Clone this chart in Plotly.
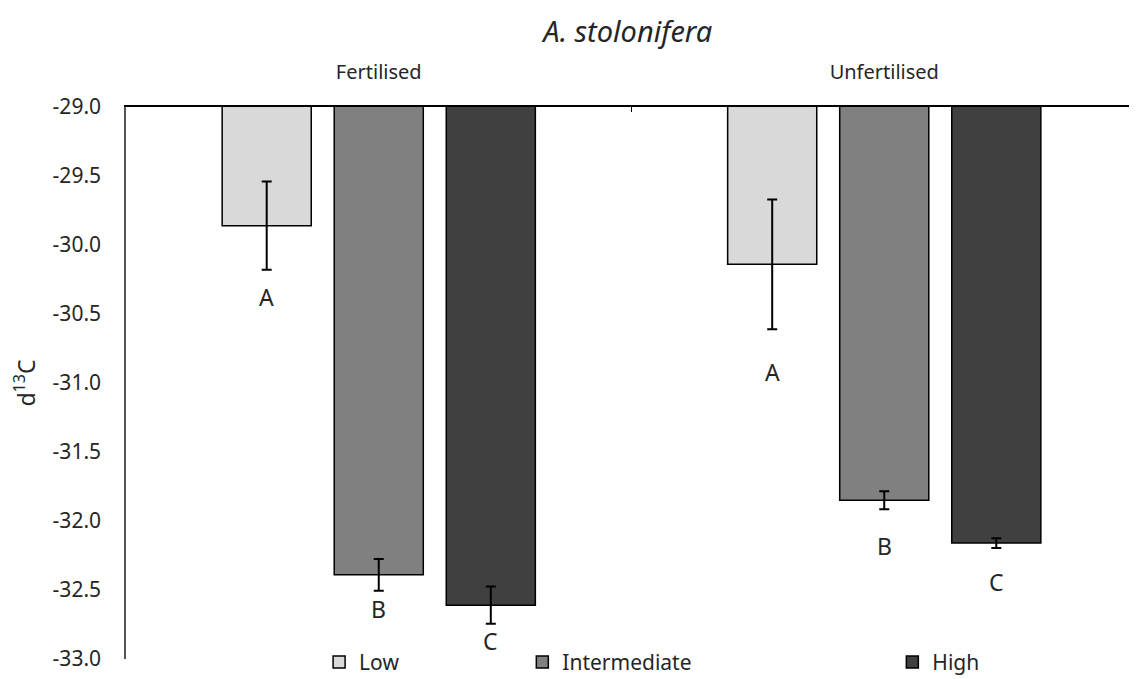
# A. stolonifera d13C, bars hanging from the top axis
import plotly.graph_objects as go

# Data
treatments = ['Fertilised', 'Unfertilised']
levels = ['Low', 'Intermediate', 'High']
d13c_low = [-29.86, -30.14]
d13c_mid = [-32.39, -31.85]
d13c_high = [-32.61, -32.16]
err_low = [0.32, 0.47]
err_mid = [0.115, 0.065]
err_high = [0.135, 0.035]
letters = [['A', 'A'], ['B', 'B'], ['C', 'C']]
y_ticks = [-29.0, -29.5, -30.0, -30.5, -31.0, -31.5, -32.0, -32.5, -33.0]

values = [d13c_low, d13c_mid, d13c_high]
errors = [err_low, err_mid, err_high]
colors = ['#d9d9d9', '#808080', '#404040']
legend_ids = ['legend', 'legend2', 'legend3']

FONT = 'Noto Sans'
TXT = '#262626'

fig = go.Figure()
for i, lvl in enumerate(levels):
    fig.add_trace(go.Bar(
        x=treatments,
        y=values[i],
        name=lvl,
        marker=dict(color=colors[i], line=dict(color='black', width=1.5)),
        error_y=dict(type='data', array=errors[i], color='black', thickness=2, width=5),
        legend=legend_ids[i],
        showlegend=True,
    ))

# significance letters under each error bar (pixel offsets, per group)
letter_shift = [[27, 43], [18, 37], [17, 34]]
annotations = []
for i in range(3):
    for j, t in enumerate(treatments):
        annotations.append(dict(
            x=t, y=values[i][j] - errors[i][j], xref='x', yref='y',
            text=letters[i][j], showarrow=False,
            xshift=(i - 1) * 112, yshift=-letter_shift[i][j],
            yanchor='middle', font=dict(family=FONT, size=23, color=TXT),
        ))

legend_style = dict(orientation='h', yanchor='middle', xanchor='left', y=-0.006,
                    font=dict(family=FONT, size=21, color=TXT),
                    bgcolor='rgba(0,0,0,0)', itemwidth=30)

# page body adds an 8px offset, so figure is 8px smaller than the window
fig.update_layout(
    width=1129, height=671,
    margin=dict(l=118, r=0, t=99, b=20, autoexpand=False),
    paper_bgcolor='white', plot_bgcolor='white',
    showlegend=True,
    barmode='group', bargap=0.335, bargroupgap=0.205,
    title=dict(text='<i>A. stolonifera</i>', x=0.549, xanchor='center',
               xref='container', yref='container', y=0.965, yanchor='middle',
               font=dict(family=FONT, size=29, color=TXT)),
    xaxis=dict(side='top', showline=True, linecolor='black', linewidth=1.5,
               ticks='inside', ticklen=5, tickcolor='black', tickson='boundaries',
               range=[-0.5, 1.5], ticklabelstandoff=18,
               tickfont=dict(family=FONT, size=20, color=TXT),
               showgrid=False, zeroline=False),
    yaxis=dict(range=[-33, -29], tickvals=y_ticks,
               ticktext=[f'{v:.1f}' for v in y_ticks], showline=True,
               linecolor='#555', linewidth=1.5, showgrid=False, zeroline=False,
               ticks='', ticklabelstandoff=19,
               tickfont=dict(family=FONT, size=21, color=TXT),
               title=dict(text='d<sup>13</sup>C', standoff=20,
                          font=dict(family=FONT, size=23, color=TXT))),
    annotations=annotations,
    legend=dict(x=0.191, **legend_style),
    legend2=dict(x=0.392, **legend_style),
    legend3=dict(x=0.758, **legend_style),
)

fig.write_html('out.html')
